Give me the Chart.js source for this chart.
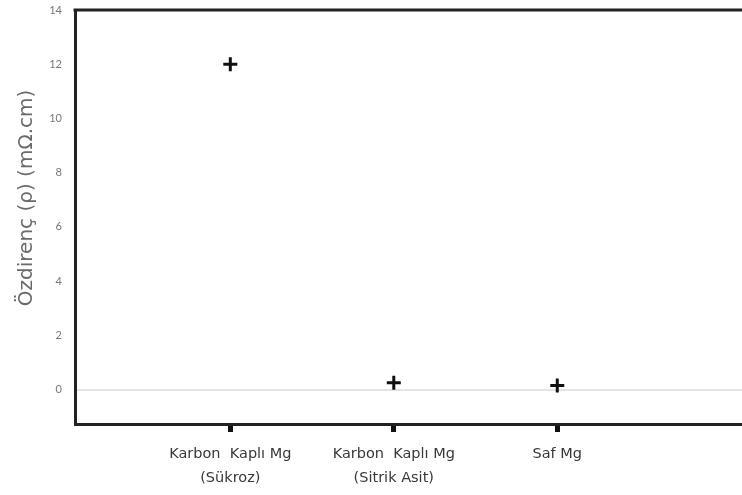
<!DOCTYPE html>
<html>
<head>
<meta charset="utf-8">
<script src="https://cdn.jsdelivr.net/npm/chart.js@4"></script>
<style>
  html, body { margin: 0; padding: 0; background: #fff; }
  #wrap { width: 742px; height: 495px; }
</style>
</head>
<body>
<div id="wrap"><canvas id="ozdirenc"></canvas></div>
<script>
const categories = [['Karbon  Kaplı Mg', '(Sükroz)'], ['Karbon  Kaplı Mg', '(Sitrik Asit)'], ['Saf Mg']];
const categoryPos = [1, 2, 3];
const resistivity = [12.0, 0.25, 0.15];
const yTicks = [0, 2, 4, 6, 8, 10, 12, 14];

// ust cerceve cizgisi (sag kenar yok)
const topLine = {
  id: 'topLine',
  afterDraw(chart) {
    const { ctx, chartArea } = chart;
    ctx.save();
    ctx.strokeStyle = '#222';
    ctx.lineWidth = 3;
    ctx.beginPath();
    ctx.moveTo(chartArea.left - 1.5, chartArea.top);
    ctx.lineTo(chart.width, chartArea.top);
    ctx.stroke();
    ctx.restore();
  }
};

new Chart(document.getElementById('ozdirenc'), {
  type: 'scatter',
  data: {
    datasets: [{
      data: resistivity.map((v, i) => ({ x: categoryPos[i], y: v })),
      pointStyle: 'cross',
      pointRadius: 7,
      pointBorderWidth: 3,
      borderColor: '#111',
      backgroundColor: '#111'
    }]
  },
  options: {
    responsive: true,
    maintainAspectRatio: false,
    animation: false,
    layout: { autoPadding: false, padding: { top: 10, right: 0, left: 0, bottom: 0 } },
    plugins: { legend: { display: false }, tooltip: { enabled: false } },
    scales: {
      x: {
        type: 'linear',
        min: 0.05,
        max: 4.13,
        afterBuildTicks: scale => { scale.ticks = categoryPos.map(v => ({ value: v })); },
        afterFit: scale => { scale.height = 71; },
        border: { display: true, color: '#222', width: 3 },
        grid: { drawOnChartArea: false, drawTicks: true, tickLength: 8, tickWidth: 5, tickColor: '#111' },
        ticks: {
          maxRotation: 0,
          autoSkip: false,
          padding: 11,
          color: '#383838',
          font: { family: 'DejaVu Sans', size: 14.5, lineHeight: 1.6 },
          callback: v => categories[categoryPos.indexOf(v)]
        }
      },
      y: {
        min: -1.27,
        max: 14,
        afterBuildTicks: scale => { scale.ticks = yTicks.map(v => ({ value: v })); },
        afterFit: scale => {
          scale.width = 75;
          scale.paddingTop = 0;
          scale.paddingBottom = 0;
        },
        border: { display: true, color: '#222', width: 3 },
        grid: {
          drawTicks: false,
          lineWidth: 2,
          color: ctx => ctx.tick && ctx.tick.value === 0 ? '#e4e4e4' : 'rgba(0,0,0,0)'
        },
        ticks: { padding: 13, color: '#777', font: { family: 'Lato', size: 11 } },
        title: {
          display: true,
          // bastaki bosluklar basligi biraz yukari kaydirir
          text: '      Özdirenç (ρ) (mΩ.cm)',
          color: '#6a6a6a',
          font: { family: 'DejaVu Sans', size: 20 },
          padding: { top: 15, bottom: 0 }
        }
      }
    }
  },
  plugins: [topLine]
});
</script>
</body>
</html>
